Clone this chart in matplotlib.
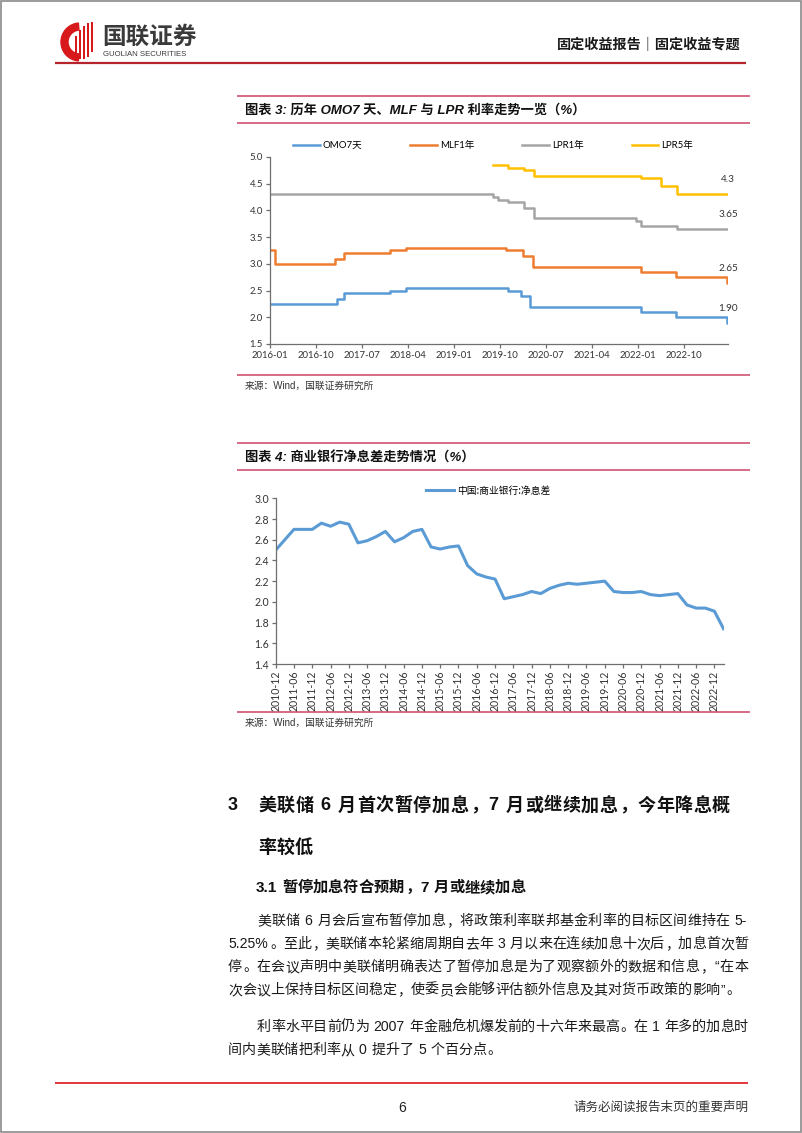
import re
import numpy as np
import pandas as pd
import matplotlib
matplotlib.use('Agg')
import matplotlib.pyplot as plt
from matplotlib.patches import Wedge, Rectangle
from matplotlib.ticker import FormatStrFormatter

# ---------------- data ----------------
omo_dates = ['2016-01-01', '2017-02-03', '2017-03-16', '2017-12-14', '2018-03-22', '2019-11-18',
             '2020-02-03', '2020-03-30', '2022-01-17', '2022-08-15', '2023-06-13', '2023-06-20']
omo_vals = [2.25, 2.35, 2.45, 2.50, 2.55, 2.50, 2.40, 2.20, 2.10, 2.00, 1.90, 1.90]

mlf_dates = ['2016-01-01', '2016-02-01', '2017-01-24', '2017-03-16', '2017-12-14', '2018-03-22',
             '2019-11-05', '2020-02-17', '2020-04-15', '2022-01-17', '2022-08-15', '2023-06-15', '2023-06-20']
mlf_vals = [3.25, 3.00, 3.10, 3.20, 3.25, 3.30, 3.25, 3.15, 2.95, 2.85, 2.75, 2.65, 2.65]

lpr1_dates = ['2016-01-01', '2018-03-25', '2019-08-20', '2019-09-20', '2019-11-20', '2020-02-20',
              '2020-04-20', '2021-12-20', '2022-01-20', '2022-08-22', '2023-06-20']
lpr1_vals = [4.30, 4.31, 4.25, 4.20, 4.15, 4.05, 3.85, 3.80, 3.70, 3.65, 3.65]

lpr5_dates = ['2019-08-20', '2019-11-20', '2020-02-20', '2020-04-20', '2022-01-20', '2022-05-20',
              '2022-08-22', '2023-06-20']
lpr5_vals = [4.85, 4.80, 4.75, 4.65, 4.60, 4.45, 4.30, 4.30]

series_names = ['OMO7天', 'MLF1年', 'LPR1年', 'LPR5年']
end_labels = ['1.90', '2.65', '3.65', '4.3']
c1_ticks = ['2016-01', '2016-10', '2017-07', '2018-04', '2019-01', '2019-10',
            '2020-07', '2021-04', '2022-01', '2022-10']

nim_quarters = ['2010-12', '2011-03', '2011-06', '2011-09', '2011-12', '2012-03', '2012-06', '2012-09',
                '2012-12', '2013-03', '2013-06', '2013-09', '2013-12', '2014-03', '2014-06', '2014-09',
                '2014-12', '2015-03', '2015-06', '2015-09', '2015-12', '2016-03', '2016-06', '2016-09',
                '2016-12', '2017-03', '2017-06', '2017-09', '2017-12', '2018-03', '2018-06', '2018-09',
                '2018-12', '2019-03', '2019-06', '2019-09', '2019-12', '2020-03', '2020-06', '2020-09',
                '2020-12', '2021-03', '2021-06', '2021-09', '2021-12', '2022-03', '2022-06', '2022-09',
                '2022-12', '2023-03']
nim_vals = [2.50, 2.60, 2.70, 2.70, 2.70, 2.76, 2.73, 2.77, 2.75, 2.57, 2.59, 2.63, 2.68, 2.58,
            2.62, 2.68, 2.70, 2.53, 2.51, 2.53, 2.54, 2.35, 2.27, 2.24, 2.22, 2.03, 2.05, 2.07,
            2.10, 2.08, 2.13, 2.16, 2.18, 2.17, 2.18, 2.19, 2.20, 2.10, 2.09, 2.09, 2.10, 2.07,
            2.06, 2.07, 2.08, 1.97, 1.94, 1.94, 1.91, 1.74]
nim_name = '中国:商业银行:净息差'

# ---------------- page ----------------
W, H = 802, 1133
fig = plt.figure(figsize=(W / 100, H / 100), dpi=100)
fig.patch.set_facecolor('white')
bg = fig.add_axes([0, 0, 1, 1])
bg.set_xlim(0, W)
bg.set_ylim(H, 0)
bg.axis('off')
bg.set_zorder(-1)
renderer = fig.canvas.get_renderer()

FAM = ['Liberation Sans', 'Noto Sans CJK SC']
CHART_FAM = ['Lato', 'Noto Sans CJK SC']


def em(fs):
    return fs * 100 / 72


def hline(y, x0, x1, color, lw):
    bg.plot([x0, x1], [y, y], color=color, lw=lw, solid_capstyle='butt')


def layout_line(s, x0, y, fs, x1=None, color='#1a1a1a', weight='normal'):
    tokens = re.findall(r'[A-Za-z0-9.%\-“”]+| +|.', s)
    items = []
    for t in tokens:
        if t.isspace():
            items.append(['sp', t, 0.28 * em(fs), None])
        elif len(t) == 1 and ord(t) >= 0x2E80:
            items.append(['cjk', t, em(fs), None])
        else:
            tx = bg.text(0, y, t, fontsize=fs, va='center', ha='left', color=color,
                         family=FAM, weight=weight)
            w = tx.get_window_extent(renderer).width + 0.1 * em(fs)
            items.append(['lat', t, w, tx])
    natural = sum(it[2] for it in items)
    extra = 0.0
    if x1 is not None and len(items) > 1:
        extra = (x1 - x0 - natural) / (len(items) - 1)
    x = x0
    for kind, t, w, tx in items:
        if kind == 'cjk':
            if t in '，。、：；':
                bg.text(x + 0.06 * em(fs), y, t, fontsize=fs, va='center', ha='left',
                        color=color, family=FAM, weight=weight)
            else:
                bg.text(x + w / 2, y, t, fontsize=fs, va='center', ha='center',
                        color=color, family=FAM, weight=weight)
        elif kind == 'lat':
            tx.set_x(x + 0.05 * em(fs))
        x += w + extra


# page frame
bg.add_patch(Rectangle((0.8, 0.8), W - 1.6, H - 1.6, fill=False, ec='#8a8a8a', lw=1.2))

# header logo
bg.add_patch(Wedge((80, 42), 19, 95, 265, width=7, color='#D7191C'))
for bx, top, bot in [(74.5, 36, 56), (78.5, 30, 59), (82.5, 26, 59), (86.5, 23, 57), (90.5, 22, 52)]:
    bg.add_patch(Rectangle((bx, top), 2.4, bot - top, color='#D7191C', lw=0))
bg.text(102, 37, '国联证券', fontsize=17, family=FAM, weight='bold', color='#3a3a3a',
        va='center', ha='left')
bg.text(103, 54, 'GUOLIAN SECURITIES', fontsize=5.6, family=FAM, color='#3a3a3a',
        va='center', ha='left')
bg.text(741, 45, '固定收益报告｜固定收益专题', fontsize=10.2, family=FAM, weight='bold',
        color='#1a1a1a', va='center', ha='right')
hline(63, 55, 746, '#B5232B', 1.6)

# chart titles / rules
PINK = '#D3607C'
hline(96, 237, 750, PINK, 1.3)
bg.text(245, 110, '图表 3: 历年 OMO7 天、MLF 与 LPR 利率走势一览（%）', fontsize=9.5, family=FAM,
        weight='bold', style='italic', color='#111', va='center', ha='left')
hline(123, 237, 750, PINK, 1.3)
hline(375, 237, 750, PINK, 1.3)
bg.text(245, 386, '来源：Wind，国联证券研究所', fontsize=7, family=FAM, color='#333',
        va='center', ha='left')

hline(443, 237, 750, PINK, 1.3)
bg.text(245, 458, '图表 4: 商业银行净息差走势情况（%）', fontsize=9.5, family=FAM,
        weight='bold', style='italic', color='#111', va='center', ha='left')
hline(470, 237, 750, PINK, 1.3)
hline(712, 237, 750, PINK, 1.3)
bg.text(245, 723, '来源：Wind，国联证券研究所', fontsize=7, family=FAM, color='#333',
        va='center', ha='left')


def px_axes(l, t, r, b):
    ax = fig.add_axes([l / W, 1 - b / H, (r - l) / W, (b - t) / H])
    ax.set_facecolor('none')
    for sp in ['top', 'right']:
        ax.spines[sp].set_visible(False)
    for sp in ['left', 'bottom']:
        ax.spines[sp].set_color('#6f6f6f')
        ax.spines[sp].set_linewidth(0.9)
    ax.tick_params(direction='out', length=3, width=0.9, color='#6f6f6f',
                   labelcolor='#333333', pad=2)
    return ax


# ---------------- chart 1 ----------------
ax1 = px_axes(270, 157, 728, 344)
colors1 = ['#5B9BD5', '#ED7D31', '#A5A5A5', '#FFC000']
all_dates = [omo_dates, mlf_dates, lpr1_dates, lpr5_dates]
all_vals = [omo_vals, mlf_vals, lpr1_vals, lpr5_vals]
for d, v, c, n, lab in zip(all_dates, all_vals, colors1, series_names, end_labels):
    dd = pd.to_datetime(d)
    ax1.step(dd, v, where='post', color=c, lw=1.8, label=n)
    ax1.annotate(lab, xy=(dd[-1], v[-1]), xytext=(0, 10.4), textcoords='offset points',
                 ha='center', va='center', fontsize=7.2, color='#333333', family=CHART_FAM)
ax1.set_xlim(pd.Timestamp('2016-01-01'), pd.Timestamp('2023-06-20'))
ax1.set_ylim(1.5, 5.0)
ax1.set_yticks(np.arange(1.5, 5.01, 0.5))
ax1.yaxis.set_major_formatter(FormatStrFormatter('%.1f'))
ax1.set_xticks(pd.to_datetime([t + '-01' for t in c1_ticks]))
ax1.set_xticklabels(c1_ticks)
for lbl in ax1.get_xticklabels() + ax1.get_yticklabels():
    lbl.set_family(CHART_FAM)
    lbl.set_fontsize(6.9)
ax1.legend(loc='center', bbox_to_anchor=(0.487, 1.06), ncol=4, frameon=False,
           prop={'family': CHART_FAM, 'size': 6.9}, handlelength=2.8, handletextpad=0.3,
           columnspacing=5.0)

# ---------------- chart 2 ----------------
ax2 = px_axes(275.7, 498.3, 724, 664)
xs = np.arange(len(nim_vals))
ax2.plot(xs, nim_vals, color='#5B9BD5', lw=2.2, label=nim_name)
ax2.set_xlim(0, len(nim_vals) - 0.95)
ax2.set_ylim(1.4, 3.0)
ax2.set_yticks(np.arange(1.4, 3.01, 0.2))
ax2.yaxis.set_major_formatter(FormatStrFormatter('%.1f'))
ax2.set_xticks(xs[::2])
ax2.set_xticklabels(nim_quarters[::2], rotation=90)
for lbl in ax2.get_xticklabels() + ax2.get_yticklabels():
    lbl.set_family(CHART_FAM)
    lbl.set_fontsize(7.6)
ax2.legend(loc='center', bbox_to_anchor=(0.474, 1.045), frameon=False,
           prop={'family': ['Noto Sans CJK SC'], 'size': 7}, handlelength=2.8,
           handletextpad=0.3)

# ---------------- body text ----------------
bg.text(233, 806, '3', fontsize=13, family=FAM, weight='bold', color='#111',
        va='center', ha='center')
layout_line('美联储 6 月首次暂停加息，7 月或继续加息，今年降息概', 258, 806, 13, x1=730,
            color='#111', weight='bold')
layout_line('率较低', 258, 848, 13, color='#111', weight='bold')
layout_line('3.1 暂停加息符合预期，7 月或继续加息', 255, 888, 11, color='#111', weight='bold')

BFS = 10.1
layout_line('美联储 6 月会后宣布暂停加息，将政策利率联邦基金利率的目标区间维持在 5-', 257, 921, BFS, x1=748)
layout_line('5.25%。至此，美联储本轮紧缩周期自去年 3 月以来在连续加息十次后，加息首次暂', 228, 944, BFS, x1=748)
layout_line('停。在会议声明中美联储明确表达了暂停加息是为了观察额外的数据和信息，“在本', 228, 967, BFS, x1=748)
layout_line('次会议上保持目标区间稳定，使委员会能够评估额外信息及其对货币政策的影响”。', 228, 990, BFS, x1=740)
layout_line('利率水平目前仍为 2007 年金融危机爆发前的十六年来最高。在 1 年多的加息时', 257, 1027, BFS, x1=748)
layout_line('间内美联储把利率从 0 提升了 5 个百分点。', 228, 1050, BFS)

# footer
hline(1083, 55, 748, '#E0262B', 1.3)
bg.text(402, 1108, '6', fontsize=10, family=FAM, color='#222', va='center', ha='center')
bg.text(748, 1108, '请务必阅读报告末页的重要声明', fontsize=9, family=FAM, color='#333',
        va='center', ha='right')

fig.savefig('out.png', dpi=100)
